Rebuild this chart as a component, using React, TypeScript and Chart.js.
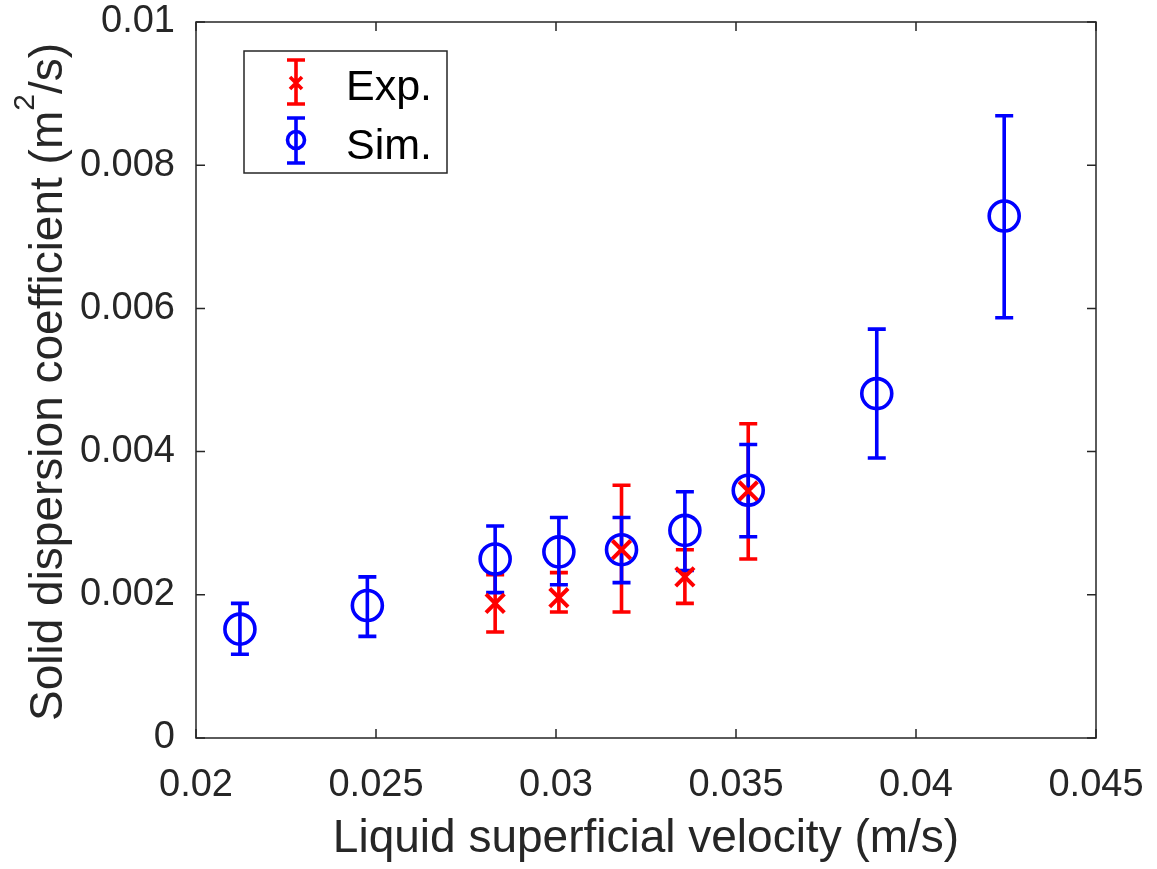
import React, { useEffect, useRef } from "react";
import { Chart, registerables } from "chart.js";

Chart.register(...registerables);

const simX = [0.02122, 0.02476, 0.02831, 0.03008, 0.03182, 0.03358, 0.03534, 0.03891, 0.04245];
const simY = [0.00152, 0.00185, 0.0025, 0.0026, 0.00263, 0.0029, 0.00346, 0.00481, 0.00729];
const simLow = [0.00117, 0.00142, 0.00203, 0.00214, 0.00217, 0.00234, 0.00281, 0.00391, 0.00587];
const simHigh = [0.00188, 0.00225, 0.00296, 0.00308, 0.00308, 0.00344, 0.0041, 0.00571, 0.00869];

const expX = [0.02831, 0.03008, 0.03182, 0.03358, 0.03534];
const expY = [0.00188, 0.00196, 0.00263, 0.00225, 0.00345];
const expLow = [0.00148, 0.00176, 0.00176, 0.00188, 0.0025];
const expHigh = [0.00228, 0.00231, 0.00353, 0.00263, 0.00439];

const xTicks = [0.02, 0.025, 0.03, 0.035, 0.04, 0.045];
const yTicks = [0, 0.002, 0.004, 0.006, 0.008, 0.01];

const xTitle = "Liquid superficial velocity (m/s)";
const yTitleMain = "Solid dispersion coefficient (m";
const yTitleSup = "2";
const yTitleEnd = "/s)";
const legendLabels = ["Exp.", "Sim."];

const RED = "#FF0000";
const BLUE = "#0000FF";
const AXIS = "#262626";
const FONT = "'Liberation Sans', Arial, sans-serif";

const errorBars = {
  id: "errorBars",
  beforeDatasetsDraw(chart: any) {
    const { ctx, scales } = chart;
    const sets = [
      { xs: expX, lo: expLow, hi: expHigh, color: RED },
      { xs: simX, lo: simLow, hi: simHigh, color: BLUE },
    ];
    ctx.save();
    for (const s of sets) {
      ctx.strokeStyle = s.color;
      ctx.lineWidth = 3.6;
      ctx.lineCap = "butt";
      s.xs.forEach((xv: number, i: number) => {
        const px = scales.x.getPixelForValue(xv);
        const pl = scales.y.getPixelForValue(s.lo[i]);
        const ph = scales.y.getPixelForValue(s.hi[i]);
        ctx.beginPath();
        ctx.moveTo(px, pl);
        ctx.lineTo(px, ph);
        ctx.moveTo(px - 9, pl);
        ctx.lineTo(px + 9, pl);
        ctx.moveTo(px - 9, ph);
        ctx.lineTo(px + 9, ph);
        ctx.stroke();
      });
    }
    ctx.restore();
  },
};

const frame = {
  id: "frame",
  afterDraw(chart: any) {
    const { ctx, chartArea: a, scales } = chart;
    ctx.save();
    ctx.strokeStyle = AXIS;
    ctx.lineWidth = 1.5;
    ctx.strokeRect(a.left, a.top, a.right - a.left, a.bottom - a.top);
    const tl = 9;
    ctx.beginPath();
    xTicks.forEach((v) => {
      const px = scales.x.getPixelForValue(v);
      ctx.moveTo(px, a.bottom);
      ctx.lineTo(px, a.bottom - tl);
      ctx.moveTo(px, a.top);
      ctx.lineTo(px, a.top + tl);
    });
    yTicks.forEach((v) => {
      const py = scales.y.getPixelForValue(v);
      ctx.moveTo(a.left, py);
      ctx.lineTo(a.left + tl, py);
      ctx.moveTo(a.right, py);
      ctx.lineTo(a.right - tl, py);
    });
    ctx.stroke();

    // x title
    ctx.fillStyle = AXIS;
    ctx.font = `46px ${FONT}`;
    ctx.textAlign = "center";
    ctx.textBaseline = "alphabetic";
    ctx.fillText(xTitle, (a.left + a.right) / 2, 852);

    // y title (rotated, with superscript)
    ctx.save();
    ctx.translate(62, 382);
    ctx.rotate(-Math.PI / 2);
    ctx.font = `46px ${FONT}`;
    const w1 = ctx.measureText(yTitleMain).width;
    const w3 = ctx.measureText(yTitleEnd).width;
    ctx.font = `30px ${FONT}`;
    const w2 = ctx.measureText(yTitleSup).width;
    const total = w1 + w2 + w3;
    const x0 = -total / 2;
    ctx.textAlign = "left";
    ctx.font = `46px ${FONT}`;
    ctx.fillText(yTitleMain, x0, 0);
    ctx.font = `30px ${FONT}`;
    ctx.fillText(yTitleSup, x0 + w1, -28);
    ctx.font = `46px ${FONT}`;
    ctx.fillText(yTitleEnd, x0 + w1 + w2, 0);
    ctx.restore();

    // legend
    const lx = 244, ly = 51, lw = 203, lh = 122;
    ctx.fillStyle = "#FFFFFF";
    ctx.fillRect(lx, ly, lw, lh);
    ctx.strokeStyle = AXIS;
    ctx.lineWidth = 1.5;
    ctx.strokeRect(lx, ly, lw, lh);
    const ix = 296;
    ctx.strokeStyle = RED;
    ctx.lineWidth = 3.6;
    ctx.beginPath();
    ctx.moveTo(ix, 60); ctx.lineTo(ix, 104);
    ctx.moveTo(ix - 9, 60); ctx.lineTo(ix + 9, 60);
    ctx.moveTo(ix - 9, 104); ctx.lineTo(ix + 9, 104);
    ctx.moveTo(ix - 6, 77); ctx.lineTo(ix + 6, 89);
    ctx.moveTo(ix + 6, 77); ctx.lineTo(ix - 6, 89);
    ctx.stroke();
    ctx.strokeStyle = BLUE;
    ctx.beginPath();
    ctx.moveTo(ix, 118); ctx.lineTo(ix, 163);
    ctx.moveTo(ix - 9, 118); ctx.lineTo(ix + 9, 118);
    ctx.moveTo(ix - 9, 163); ctx.lineTo(ix + 9, 163);
    ctx.stroke();
    ctx.beginPath();
    ctx.arc(ix, 140, 8.5, 0, Math.PI * 2);
    ctx.stroke();
    ctx.fillStyle = "#000000";
    ctx.font = `43px ${FONT}`;
    ctx.textAlign = "left";
    ctx.fillText(legendLabels[0], 346, 100);
    ctx.fillText(legendLabels[1], 346, 159);
    ctx.restore();
  },
};

export default function App() {
  const ref = useRef<HTMLCanvasElement>(null);
  useEffect(() => {
    if (!ref.current) return;
    const fmt = (v: any) => String(+Number(v).toFixed(4));
    const chart = new Chart(ref.current, {
      type: "scatter",
      data: {
        datasets: [
          {
            label: legendLabels[0],
            data: expX.map((x, i) => ({ x, y: expY[i] })),
            pointStyle: "crossRot",
            pointRadius: 13,
            pointBorderWidth: 4,
            borderColor: RED,
            backgroundColor: RED,
            showLine: false,
          },
          {
            label: legendLabels[1],
            data: simX.map((x, i) => ({ x, y: simY[i] })),
            pointStyle: "circle",
            pointRadius: 15,
            pointBorderWidth: 3.6,
            borderColor: BLUE,
            backgroundColor: "rgba(0,0,0,0)",
            showLine: false,
          },
        ],
      },
      options: {
        responsive: false,
        animation: false,
        events: [],
        layout: { padding: { left: 0, right: 61, top: 22, bottom: 0 } },
        plugins: { legend: { display: false }, tooltip: { enabled: false } },
        scales: {
          x: {
            type: "linear",
            min: 0.02,
            max: 0.045,
            afterFit: (s: any) => {
              s.height = 131;
              s.paddingLeft = 0;
              s.paddingRight = 0;
            },
            afterBuildTicks: (s: any) => { s.ticks = xTicks.map((v) => ({ value: v })); },
            grid: { display: false, drawTicks: false },
            border: { display: false },
            ticks: {
              padding: 25,
              color: AXIS,
              font: { family: FONT, size: 38 },
              maxRotation: 0,
              autoSkip: false,
              callback: fmt,
            },
          },
          y: {
            type: "linear",
            min: 0,
            max: 0.01,
            afterFit: (s: any) => {
              s.width = 196;
              s.paddingTop = 0;
              s.paddingBottom = 0;
            },
            afterBuildTicks: (s: any) => { s.ticks = yTicks.map((v) => ({ value: v })); },
            grid: { display: false, drawTicks: false },
            border: { display: false },
            ticks: {
              padding: 21,
              color: AXIS,
              font: { family: FONT, size: 38 },
              autoSkip: false,
              callback: fmt,
            },
          },
        },
      },
      plugins: [errorBars, frame],
    });
    return () => chart.destroy();
  }, []);
  return (
    <div style={{ position: "fixed", left: 0, top: 0, width: 1157, height: 869, background: "#fff" }}>
      <canvas ref={ref} width={1157} height={869} />
    </div>
  );
}
